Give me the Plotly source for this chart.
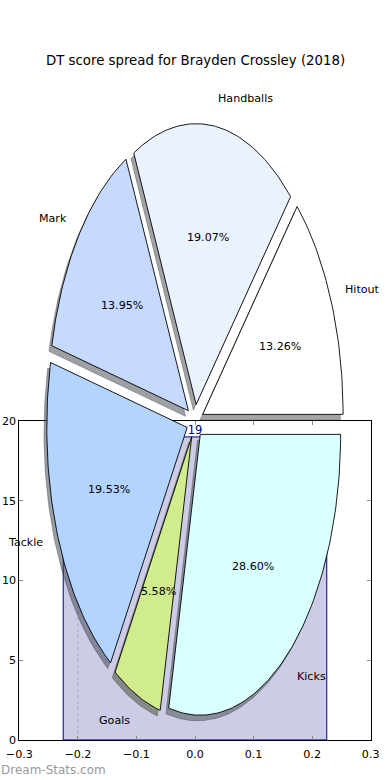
import numpy as np
import plotly.graph_objects as go

# ---------------- data ----------------
labels = ["Hitout", "Handballs", "Mark", "Tackle", "Goals", "Kicks"]
shares = [13.26, 19.07, 13.95, 19.53, 5.58, 28.60]
colors = ["#ffffff", "#eaf2ff", "#c6d9ff", "#b3d4ff", "#d0ec8c", "#d9ffff"]

score_x = [0.0]
score_y = [19]
score_text = ["19"]
ref_line_x = [-0.2, -0.2]
ref_line_y = [0, 20]

x_tickvals = [-0.3, -0.2, -0.1, 0.0, 0.1, 0.2, 0.3]
x_ticktext = ["\u22120.3", "\u22120.2", "\u22120.1", "0.0", "0.1", "0.2", "0.3"]
y_tickvals = [0, 5, 10, 15, 20]
y_ticktext = ["0", "5", "10", "15", "20"]

title = "DT score spread for Brayden Crossley (2018)"
watermark = "Dream-Stats.com"

# ---------------- style ----------------
FONT = "DejaVu Sans"
explode = 0.06
label_dist = 1.1
pct_dist = 0.6
shadow_off = (-0.02, -0.02)

fig = go.Figure()

# main axes: score bar + reference line
fig.add_trace(go.Bar(
    x=score_x, y=score_y, width=[0.45],
    marker=dict(color="rgba(0,0,128,0.2)", line=dict(color="navy", width=1)),
    xaxis="x", yaxis="y", showlegend=False, hoverinfo="skip"))
fig.add_trace(go.Scatter(
    x=ref_line_x, y=ref_line_y, mode="lines",
    line=dict(color="#aaaaaa", width=1, dash="dot"),
    xaxis="x", yaxis="y", showlegend=False, hoverinfo="skip"))
fig.add_trace(go.Scatter(
    x=score_x, y=score_y, mode="text", text=score_text,
    textposition="top center",
    textfont=dict(family=FONT, size=11.5, color="navy"),
    xaxis="x", yaxis="y", showlegend=False, hoverinfo="skip"))

# pie geometry (matplotlib-style, on its own non-equal-aspect axes)
vals = np.array(shares, dtype=float)
fracs = vals / vals.sum()
bounds = np.concatenate([[0.0], np.cumsum(fracs)]) * 360.0


def hex_rgb(h):
    h = h.lstrip("#")
    return tuple(int(h[i:i + 2], 16) for i in (0, 2, 4))


wedges = []
for i, lab in enumerate(labels):
    t1, t2 = bounds[i], bounds[i + 1]
    tm = np.deg2rad(0.5 * (t1 + t2))
    cx = explode * np.cos(tm)
    cy = explode * np.sin(tm)
    n = max(int((t2 - t1) / 1.0), 4)
    th = np.deg2rad(np.linspace(t1, t2, n + 1))
    xs = np.concatenate([[cx], cx + np.cos(th), [cx]])
    ys = np.concatenate([[cy], cy + np.sin(th), [cy]])
    wedges.append((xs, ys, cx, cy, tm))

# shadows first
for i, (xs, ys, cx, cy, tm) in enumerate(wedges):
    r, g, b = hex_rgb(colors[i])
    sc = "rgba(%d,%d,%d,0.5)" % (r * 0.3, g * 0.3, b * 0.3)
    fig.add_trace(go.Scatter(
        x=xs + shadow_off[0], y=ys + shadow_off[1], mode="lines",
        fill="toself", fillcolor=sc, line=dict(color=sc, width=0.8),
        xaxis="x2", yaxis="y2", showlegend=False, hoverinfo="skip"))

# wedges
for i, (xs, ys, cx, cy, tm) in enumerate(wedges):
    fig.add_trace(go.Scatter(
        x=xs, y=ys, mode="lines", fill="toself", fillcolor=colors[i],
        line=dict(color="black", width=0.9),
        xaxis="x2", yaxis="y2", showlegend=False, hoverinfo="skip"))

annotations = []
for i, (xs, ys, cx, cy, tm) in enumerate(wedges):
    xt = cx + label_dist * np.cos(tm)
    yt = cy + label_dist * np.sin(tm)
    annotations.append(dict(
        x=xt, y=yt, xref="x2", yref="y2", text=labels[i], showarrow=False,
        xanchor="left" if xt > 0 else "right", yanchor="middle",
        font=dict(family=FONT, size=11.1, color="black"), borderpad=0))
    xp = cx + pct_dist * np.cos(tm)
    yp = cy + pct_dist * np.sin(tm)
    annotations.append(dict(
        x=xp, y=yp, xref="x2", yref="y2", text="%.2f%%" % (fracs[i] * 100),
        showarrow=False, xanchor="center", yanchor="middle",
        font=dict(family=FONT, size=11.1, color="black"), borderpad=0))

annotations.append(dict(
    x=0.5, y=1 - 61 / 780, xref="paper", yref="paper", text=title,
    showarrow=False, xanchor="center", yanchor="middle",
    font=dict(family=FONT, size=13.3, color="black")))
annotations.append(dict(
    x=0.0, y=1 - 770 / 780, xref="paper", yref="paper", text=watermark,
    showarrow=False, xanchor="left", yanchor="middle",
    font=dict(family=FONT, size=12, color="#999999"), borderpad=0))

axis_common = dict(
    showline=True, linecolor="black", linewidth=1, mirror="ticks",
    ticks="inside", ticklen=4, tickcolor="#888888", tickwidth=1,
    showgrid=False, zeroline=False,
    tickfont=dict(family=FONT, size=11.1, color="black"))

fig.update_layout(
    width=390, height=780,
    margin=dict(l=0, r=0, t=0, b=0),
    paper_bgcolor="white", plot_bgcolor="rgba(0,0,0,0)",
    xaxis=dict(domain=[0.0495, 0.9505], range=[-0.3, 0.3], anchor="y",
               tickmode="array", tickvals=x_tickvals, ticktext=x_ticktext,
               automargin=False, ticklabelstandoff=4, **axis_common),
    yaxis=dict(domain=[0.0513, 0.4603], range=[0, 20], anchor="x",
               tickmode="array", tickvals=y_tickvals, ticktext=y_ticktext,
               automargin=False, **axis_common),
    xaxis2=dict(domain=[0.05, 0.95], range=[-1.25, 1.25], anchor="y2",
                visible=False, fixedrange=True),
    yaxis2=dict(domain=[0.01, 0.91], range=[-1.25, 1.25], anchor="x2",
                visible=False, fixedrange=True),
    annotations=annotations,
    showlegend=False,
    bargap=0,
)

fig.write_html("out.html",
               config={"displayModeBar": False, "staticPlot": True},
               post_script="document.body.style.margin='0';"
                           "document.body.style.overflow='hidden';")
